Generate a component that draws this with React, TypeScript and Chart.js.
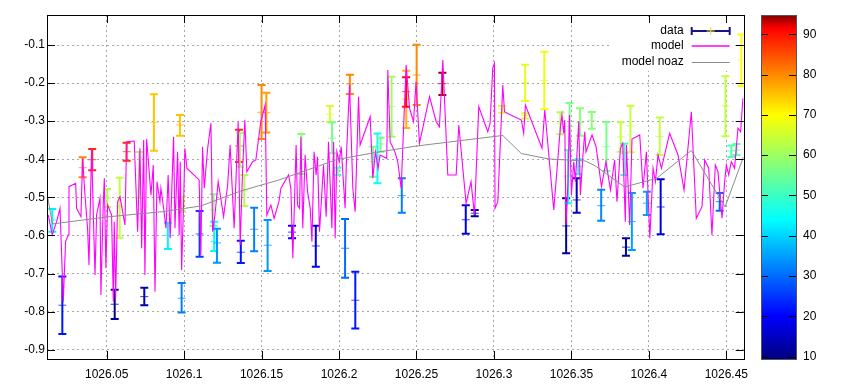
import React, { useEffect, useRef } from "react";
import { Chart, registerables } from "chart.js";

Chart.register(...registerables);

const FONT = '"Liberation Sans", Arial, Helvetica, sans-serif';

// ---- axis ranges / ticks ----
const xMin = 1026.0115;
const xMax = 1026.4612;
const yMin = -0.9244;
const yMax = -0.0212;
const cbMin = 9.4;
const cbMax = 94.8;
const xStep = 0.05;
const yStep = 0.1;
const cbStep = 10;

const seriesLabels = ["data", "model", "model noaz"];

// ---- model (magenta) ----
const modelX = [1026.0123,1026.0149,1026.0177,1026.0199,1026.0220,1026.0235,1026.0252,1026.0257,1026.0300,1026.0306,1026.0334,1026.0345,1026.0360,1026.0377,1026.0386,1026.0403,1026.0414,1026.0425,1026.0435,1026.0457,1026.0463,1026.0478,1026.0485,1026.0495,1026.0506,1026.0532,1026.0543,1026.0549,1026.0558,1026.0571,1026.0586,1026.0618,1026.0629,1026.0678,1026.0700,1026.0715,1026.0726,1026.0739,1026.0747,1026.0758,1026.0773,1026.0786,1026.0801,1026.0812,1026.0825,1026.0844,1026.0850,1026.0868,1026.0883,1026.0897,1026.0910,1026.0932,1026.0941,1026.0958,1026.0968,1026.0975,1026.0984,1026.0997,1026.1005,1026.1018,1026.1097,1026.1108,1026.1119,1026.1130,1026.1152,1026.1173,1026.1184,1026.1199,1026.1220,1026.1255,1026.1281,1026.1297,1026.1323,1026.1349,1026.1362,1026.1377,1026.1392,1026.1405,1026.1442,1026.1463,1026.1495,1026.1523,1026.1534,1026.1560,1026.1581,1026.1612,1026.1625,1026.1674,1026.1689,1026.1702,1026.1723,1026.1732,1026.1745,1026.1754,1026.1766,1026.1781,1026.1797,1026.1814,1026.1825,1026.1839,1026.1852,1026.1861,1026.1874,1026.1900,1026.1917,1026.1932,1026.1954,1026.1965,1026.1975,1026.1986,1026.2001,1026.2014,1026.2039,1026.2050,1026.2068,1026.2089,1026.2104,1026.2126,1026.2136,1026.2201,1026.2218,1026.2235,1026.2252,1026.2265,1026.2308,1026.2315,1026.2330,1026.2360,1026.2379,1026.2401,1026.2433,1026.2455,1026.2481,1026.2497,1026.2519,1026.2584,1026.2627,1026.2648,1026.2670,1026.2702,1026.2756,1026.2773,1026.2820,1026.2852,1026.2874,1026.2902,1026.2960,1026.2975,1026.2992,1026.3003,1026.3007,1026.3025,1026.3057,1026.3068,1026.3108,1026.3177,1026.3192,1026.3203,1026.3310,1026.3328,1026.3386,1026.3429,1026.3439,1026.3450,1026.3457,1026.3465,1026.3478,1026.3487,1026.3500,1026.3515,1026.3526,1026.3547,1026.3558,1026.3573,1026.3586,1026.3594,1026.3633,1026.3659,1026.3694,1026.3723,1026.3752,1026.3779,1026.3794,1026.3816,1026.3831,1026.3848,1026.3855,1026.3865,1026.3876,1026.3891,1026.3941,1026.3962,1026.3984,1026.4006,1026.4027,1026.4042,1026.4059,1026.4081,1026.4134,1026.4188,1026.4227,1026.4274,1026.4306,1026.4343,1026.4360,1026.4386,1026.4407,1026.4429,1026.4446,1026.4472,1026.4489,1026.4500,1026.4515,1026.4532,1026.4553,1026.4575,1026.4592,1026.4607];
const modelY = [-0.5462,-0.5987,-0.5638,-0.5286,-0.7738,-0.6163,-0.5987,-0.4719,-0.4630,-0.5286,-0.5507,-0.3974,-0.4937,-0.5811,-0.6774,-0.3711,-0.5462,-0.7037,-0.5462,-0.5024,-0.7562,-0.5200,-0.4499,-0.6861,-0.5200,-0.5462,-0.7738,-0.5638,-0.7648,-0.5113,-0.4982,-0.5724,-0.3538,-0.3520,-0.5900,-0.3711,-0.6336,-0.3493,-0.7037,-0.3467,-0.4236,-0.4937,-0.4150,-0.7475,-0.4588,-0.5113,-0.4761,-0.5286,-0.5811,-0.4412,-0.6074,-0.3407,-0.5811,-0.3801,-0.5987,-0.4063,-0.6906,-0.5113,-0.3711,-0.4236,-0.4543,-0.6512,-0.3669,-0.4761,-0.3711,-0.3055,-0.5900,-0.5462,-0.4588,-0.5507,-0.4675,-0.3625,-0.5811,-0.3013,-0.6249,-0.4326,-0.2969,-0.4326,-0.4063,-0.4018,-0.3013,-0.2575,-0.5462,-0.5200,-0.5549,-0.5113,-0.4761,-0.4412,-0.4761,-0.6599,-0.3625,-0.5200,-0.5286,-0.3407,-0.5811,-0.3887,-0.4850,-0.5286,-0.6163,-0.3801,-0.4412,-0.3932,-0.5900,-0.4150,-0.5507,-0.3538,-0.5811,-0.3538,-0.6074,-0.3801,-0.4063,-0.3669,-0.5286,-0.3711,-0.2050,-0.4761,-0.5375,-0.2357,-0.3625,-0.2882,-0.4499,-0.3801,-0.4236,-0.3887,-0.3974,-0.1656,-0.3538,-0.3801,-0.4063,-0.4761,-0.1525,-0.2661,-0.3013,-0.1963,-0.3580,-0.2357,-0.3013,-0.3144,-0.1394,-0.4412,-0.4412,-0.3100,-0.5155,-0.4588,-0.5462,-0.2619,-0.3276,-0.3055,-0.1612,-0.1480,-0.5286,-0.5113,-0.2050,-0.2751,-0.2837,-0.2969,-0.3318,-0.2575,-0.3711,-0.2706,-0.5331,-0.3144,-0.2837,-0.3318,-0.2969,-0.5724,-0.4588,-0.2837,-0.4937,-0.4063,-0.4588,-0.3013,-0.4937,-0.3974,-0.3276,-0.3801,-0.3362,-0.3669,-0.4719,-0.4063,-0.4806,-0.4018,-0.5113,-0.3711,-0.3580,-0.5638,-0.3625,-0.4588,-0.5724,-0.3467,-0.3362,-0.4761,-0.3801,-0.6074,-0.4236,-0.4588,-0.3887,-0.4236,-0.3318,-0.3887,-0.4806,-0.2751,-0.5549,-0.5244,-0.4018,-0.4236,-0.5987,-0.4150,-0.4326,-0.5549,-0.4588,-0.4150,-0.4412,-0.4063,-0.4236,-0.3186,-0.3276,-0.2399];

// ---- model noaz (gray) ----
const noazX = [1026.0118,1026.0150,1026.0502,1026.0863,1026.1108,1026.1366,1026.1612,1026.1857,1026.1986,1026.2244,1026.2502,1026.3057,1026.3176,1026.3354,1026.3590,1026.3655,1026.3844,1026.4050,1026.4274,1026.4492,1026.4610];
const noazY = [-0.4963,-0.5698,-0.5514,-0.5375,-0.5226,-0.4832,-0.4543,-0.4194,-0.4005,-0.3816,-0.3651,-0.3375,-0.3848,-0.3992,-0.4045,-0.4176,-0.4727,-0.4499,-0.3769,-0.5252,-0.3940];

// ---- data with error bars, colour value ----
const dataX = [1026.0149,1026.0214,1026.0345,1026.0407,1026.0504,1026.0552,1026.0584,1026.0629,1026.0710,1026.0743,1026.0805,1026.0895,1026.0973,1026.0984,1026.0986,1026.1100,1026.1190,1026.1194,1026.1212,1026.1354,1026.1360,1026.1388,1026.1366,1026.1452,1026.1500,1026.1531,1026.1539,1026.1697,1026.1757,1026.1850,1026.1941,1026.1955,1026.1990,1026.2039,1026.2070,1026.2105,1026.2221,1026.2248,1026.2268,1026.2339,1026.2405,1026.2434,1026.2433,1026.2501,1026.2667,1026.2818,1026.2876,1026.3052,1026.3201,1026.3203,1026.3325,1026.3429,1026.3466,1026.3479,1026.3488,1026.3534,1026.3545,1026.3555,1026.3631,1026.3692,1026.3726,1026.3818,1026.3841,1026.3852,1026.3890,1026.3881,1026.3987,1026.4070,1026.4076,1026.4457,1026.4494,1026.4597,1026.4532,1026.4565];
const dataY = [-0.5593,-0.7832,-0.4221,-0.4011,-0.5016,-0.7806,-0.5244,-0.3801,-0.4412,-0.7606,-0.3029,-0.6005,-0.3100,-0.7648,-0.5173,-0.5961,-0.5331,-0.6163,-0.6197,-0.3651,-0.3756,-0.4832,-0.6441,-0.5837,-0.2766,-0.2777,-0.6257,-0.5913,-0.3869,-0.6276,-0.2819,-0.3449,-0.4289,-0.6336,-0.2024,-0.7701,-0.4063,-0.3940,-0.3598,-0.2619,-0.4955,-0.2425,-0.2226,-0.1787,-0.2016,-0.5588,-0.5417,-0.2680,-0.1984,-0.2850,-0.1932,-0.3053,-0.5751,-0.4438,-0.3144,-0.5068,-0.4194,-0.3034,-0.2976,-0.5218,-0.3669,-0.3415,-0.3843,-0.6307,-0.5633,-0.3126,-0.5152,-0.3402,-0.5252,-0.5113,-0.2601,-0.1394,-0.3782,-0.3756];
const dataHigh = [-0.5304,-0.7081,-0.3948,-0.3730,-0.4780,-0.7423,-0.4483,-0.3564,-0.3808,-0.7370,-0.2294,-0.5664,-0.2837,-0.7247,-0.4982,-0.5357,-0.4919,-0.5638,-0.5822,-0.3223,-0.3302,-0.4412,-0.6137,-0.5270,-0.2050,-0.2252,-0.5593,-0.5743,-0.3336,-0.5743,-0.2601,-0.3029,-0.4221,-0.5567,-0.1780,-0.6953,-0.3669,-0.3323,-0.3433,-0.1832,-0.4499,-0.1675,-0.1848,-0.0992,-0.1727,-0.5205,-0.5331,-0.2601,-0.1520,-0.2793,-0.1176,-0.2764,-0.5024,-0.3764,-0.2522,-0.4499,-0.4000,-0.2661,-0.2759,-0.4798,-0.3021,-0.3029,-0.3591,-0.6074,-0.4885,-0.2593,-0.4850,-0.2903,-0.4525,-0.4885,-0.1819,-0.0724,-0.3638,-0.3598];
const dataLow = [-0.5900,-0.8585,-0.4472,-0.4289,-0.5252,-0.8192,-0.6058,-0.4037,-0.5008,-0.7832,-0.3774,-0.6354,-0.3381,-0.8026,-0.5375,-0.6557,-0.5751,-0.6407,-0.6714,-0.4071,-0.4194,-0.5226,-0.6722,-0.6415,-0.3467,-0.3297,-0.6932,-0.6074,-0.4386,-0.6819,-0.3029,-0.3843,-0.4412,-0.7108,-0.2286,-0.8446,-0.4457,-0.4630,-0.3801,-0.3407,-0.5402,-0.3179,-0.2619,-0.2575,-0.2312,-0.5955,-0.5496,-0.2777,-0.2470,-0.2929,-0.2688,-0.3341,-0.6467,-0.5155,-0.3756,-0.5402,-0.4394,-0.3383,-0.3197,-0.5612,-0.4307,-0.3801,-0.4412,-0.6530,-0.6381,-0.3816,-0.5462,-0.3887,-0.5969,-0.5349,-0.3394,-0.2076,-0.3940,-0.3887];
const dataC = [43,22,80,88,62,12,64,88,60,14,75,43,75,32,62,26,58,44,34,87,60,62,22,32,80,78,34,20,58,18,66,56,52,30,80,22,56,45,55,60,32,76,91,80,94,18,12,66,67,66,68,62,12,44,56,15,46,58,58,33,56,64,50,12,35,64,35,64,18,30,64,70,52,54];

// ---- palette (value -> colour) ----
const paletteStops = [9.4, 20, 44, 70, 91.5, 94.8];
const paletteRGB = [[0,0,128],[0,0,255],[0,255,255],[255,255,0],[255,0,0],[128,0,0]];

function palette(v: number): string {
  const s = paletteStops, c = paletteRGB;
  let rgb = c[c.length - 1];
  if (v <= s[0]) rgb = c[0];
  else {
    for (let i = 1; i < s.length; i++) {
      if (v <= s[i]) {
        const t = (v - s[i - 1]) / (s[i] - s[i - 1]);
        rgb = [0, 1, 2].map((k) => Math.round(c[i - 1][k] + t * (c[i][k] - c[i - 1][k])));
        break;
      }
    }
  }
  return `rgb(${rgb[0]},${rgb[1]},${rgb[2]})`;
}

const px = (v: number) => Math.round(v) + 0.5;

const gnuplotPlugin = {
  id: "gnuplotLook",
  beforeDatasetsDraw(chart: any) {
    const { ctx, chartArea: a, scales } = chart;
    const xs = scales.x, ys = scales.y;
    // key box background (hides grid behind the key)
    ctx.save();
    ctx.fillStyle = "#ffffff";
    ctx.fillRect(a.right - 133, a.top + 5, 127, 51);
    ctx.restore();
    // error bars
    ctx.save();
    ctx.beginPath();
    ctx.rect(a.left, a.top, a.right - a.left, a.bottom - a.top);
    ctx.clip();
    const pts = chart.data.datasets[0].data;
    for (const p of pts) {
      const x = xs.getPixelForValue(p.x);
      const yt = ys.getPixelForValue(p.hi);
      const yb = ys.getPixelForValue(p.lo);
      const ym = ys.getPixelForValue(p.y);
      const col = palette(p.c);
      ctx.strokeStyle = col;
      ctx.lineWidth = 2;
      ctx.beginPath();
      ctx.moveTo(x, yt); ctx.lineTo(x, yb);
      ctx.moveTo(x - 4, yt); ctx.lineTo(x + 4, yt);
      ctx.moveTo(x - 4, yb); ctx.lineTo(x + 4, yb);
      ctx.stroke();
      ctx.lineWidth = 1;
      ctx.globalAlpha = 0.75;
      ctx.beginPath();
      ctx.moveTo(x - 4, ym); ctx.lineTo(x + 4, ym);
      ctx.stroke();
      ctx.globalAlpha = 1;
    }
    ctx.restore();
  },
  afterDraw(chart: any) {
    const { ctx, chartArea: a, scales } = chart;
    const xs = scales.x, ys = scales.y, cb = scales.cb;
    ctx.save();
    // ticks (inward, mirrored)
    ctx.strokeStyle = "#000";
    ctx.lineWidth = 1;
    ctx.beginPath();
    for (const t of xs.ticks) {
      const x = px(xs.getPixelForValue(t.value));
      ctx.moveTo(x, a.bottom); ctx.lineTo(x, a.bottom - 8);
      ctx.moveTo(x, a.top); ctx.lineTo(x, a.top + 8);
    }
    for (const t of ys.ticks) {
      const y = px(ys.getPixelForValue(t.value));
      ctx.moveTo(a.left, y); ctx.lineTo(a.left + 8, y);
      ctx.moveTo(a.right, y); ctx.lineTo(a.right - 8, y);
    }
    ctx.stroke();
    // border
    ctx.strokeRect(px(a.left), px(a.top), Math.round(a.right) - Math.round(a.left), Math.round(a.bottom) - Math.round(a.top));

    // colour box
    const cx0 = Math.round(a.right + 17);
    const cx1 = Math.round(a.right + 52);
    const cTop = cb.getPixelForValue(cbMax);
    const cBot = cb.getPixelForValue(cbMin);
    const g = ctx.createLinearGradient(0, cBot, 0, cTop);
    paletteStops.forEach((s) => {
      const f = (cb.getPixelForValue(s) - cBot) / (cTop - cBot);
      g.addColorStop(Math.min(1, Math.max(0, f)), palette(s));
    });
    ctx.fillStyle = g;
    ctx.fillRect(cx0, cTop, cx1 - cx0, cBot - cTop);
    ctx.strokeStyle = "#000";
    ctx.beginPath();
    for (const t of cb.ticks) {
      const y = px(cb.getPixelForValue(t.value));
      ctx.moveTo(cx0, y); ctx.lineTo(cx0 + 7, y);
      ctx.moveTo(cx1, y); ctx.lineTo(cx1 - 7, y);
    }
    ctx.stroke();
    ctx.strokeStyle = "#555";
    ctx.strokeRect(cx0 + 0.5, px(cTop), cx1 - cx0, Math.round(cBot) - Math.round(cTop));

    // key
    const tx = a.right - 60;
    const sx0 = a.right - 52;
    const sx1 = a.right - 14;
    const rows = [a.top + 16, a.top + 31, a.top + 47];
    ctx.font = `12px ${FONT}`;
    ctx.fillStyle = "#000";
    ctx.textAlign = "right";
    ctx.textBaseline = "middle";
    seriesLabels.forEach((lab, i) => ctx.fillText(lab, tx, rows[i]));
    // data sample
    let y = rows[0];
    ctx.strokeStyle = "rgb(20,20,130)";
    ctx.lineWidth = 2;
    ctx.beginPath();
    ctx.moveTo(sx0, y); ctx.lineTo(sx1, y);
    ctx.moveTo(sx0, y - 4); ctx.lineTo(sx0, y + 4);
    ctx.moveTo(sx1, y - 4); ctx.lineTo(sx1, y + 4);
    ctx.stroke();
    const mx = (sx0 + sx1) / 2;
    ctx.strokeStyle = "rgb(225,225,40)";
    ctx.lineWidth = 1;
    ctx.beginPath();
    ctx.moveTo(mx - 4, y); ctx.lineTo(mx + 4, y);
    ctx.moveTo(mx, y - 4); ctx.lineTo(mx, y + 4);
    ctx.stroke();
    // model sample
    y = rows[1];
    ctx.strokeStyle = "#ff00ff";
    ctx.lineWidth = 1.5;
    ctx.beginPath(); ctx.moveTo(sx0, y); ctx.lineTo(sx1, y); ctx.stroke();
    // noaz sample
    y = rows[2];
    ctx.strokeStyle = "#8c8c8c";
    ctx.lineWidth = 1;
    ctx.beginPath(); ctx.moveTo(sx0, px(y)); ctx.lineTo(sx1, px(y)); ctx.stroke();
    ctx.restore();
  },
};

export default function App() {
  const ref = useRef<HTMLCanvasElement | null>(null);
  useEffect(() => {
    if (!ref.current) return;
    const barPoints = dataX.map((x, i) => ({ x, y: dataY[i], hi: dataHigh[i], lo: dataLow[i], c: dataC[i] }));
    const modelPts = modelX.map((x, i) => ({ x, y: modelY[i] }));
    const noazPts = noazX.map((x, i) => ({ x, y: noazY[i] }));
    const tickFont = { family: FONT, size: 12 };
    const chart = new Chart(ref.current, {
      type: "scatter",
      data: {
        datasets: [
          { label: seriesLabels[0], data: barPoints as any, pointRadius: 0, showLine: false, order: 3 },
          { label: seriesLabels[1], data: modelPts, showLine: true, borderColor: "#ff00ff", borderWidth: 1.1, pointRadius: 0, order: 2 },
          { label: seriesLabels[2], data: noazPts, showLine: true, borderColor: "#8c8c8c", borderWidth: 1, pointRadius: 0, order: 1 },
        ],
      },
      options: {
        responsive: false,
        animation: false,
        events: [],
        layout: { padding: { top: 15, left: 0, right: 0, bottom: 0 } },
        plugins: { legend: { display: false }, tooltip: { enabled: false } },
        scales: {
          x: {
            type: "linear",
            position: "bottom",
            min: xMin,
            max: xMax,
            afterFit: (s: any) => { s.height = 32; s.paddingLeft = 0; s.paddingRight = 0; },
            grid: { color: "#a8a8a8", lineWidth: 1, drawTicks: false },
            border: { display: false, dash: [2, 3] },
            ticks: {
              stepSize: xStep,
              includeBounds: false,
              padding: 8,
              color: "#000",
              font: tickFont,
              maxRotation: 0,
              autoSkip: false,
              callback: (v: any) => String(+Number(v).toFixed(2)),
            },
          },
          y: {
            type: "linear",
            position: "left",
            min: yMin,
            max: yMax,
            afterFit: (s: any) => { s.width = 47; s.paddingTop = 0; s.paddingBottom = 0; },
            grid: { color: "#a8a8a8", lineWidth: 1, drawTicks: false },
            border: { display: false, dash: [2, 3] },
            ticks: {
              stepSize: yStep,
              includeBounds: false,
              padding: 2,
              color: "#000",
              font: tickFont,
              callback: (v: any) => String(+Number(v).toFixed(1)),
            },
          },
          cb: {
            type: "linear",
            position: "right",
            min: cbMin,
            max: cbMax,
            afterFit: (s: any) => { s.width = 124.3; s.paddingTop = 0; s.paddingBottom = 0; },
            grid: { display: false, drawTicks: true, tickLength: 59.3 },
            border: { display: false },
            ticks: {
              stepSize: cbStep,
              includeBounds: false,
              padding: 0,
              color: "#000",
              font: tickFont,
              callback: (v: any) => String(Math.round(Number(v))),
            },
          },
        },
      } as any,
      plugins: [gnuplotPlugin],
    });
    return () => chart.destroy();
  }, []);
  return (
    <div style={{ position: "fixed", left: 0, top: 0, width: 868, height: 391, background: "#fff" }}>
      <canvas ref={ref} width={868} height={391} style={{ display: "block", width: 868, height: 391 }} />
    </div>
  );
}
